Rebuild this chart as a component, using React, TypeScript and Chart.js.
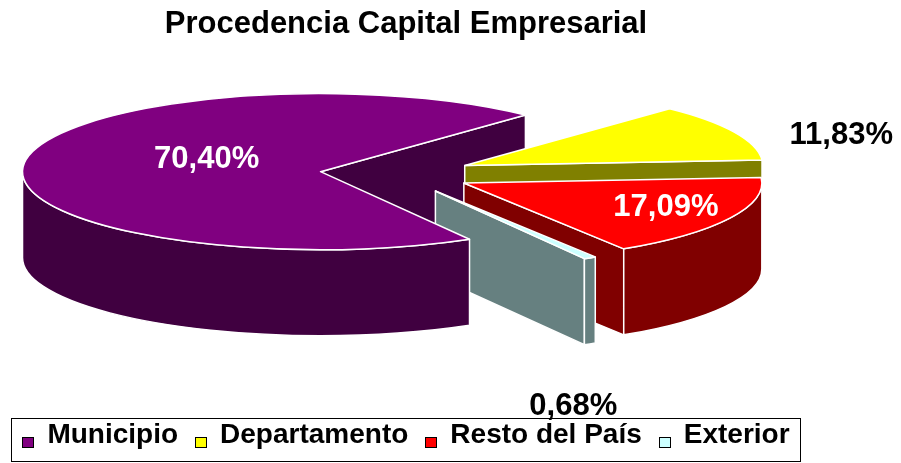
import React, { useEffect, useRef } from 'react';
import { Chart, registerables } from 'chart.js';

Chart.register(...registerables);

// ---------- data ----------
const TITLE = 'Procedencia Capital Empresarial';
const CATEGORIES = ['Municipio', 'Departamento', 'Resto del País', 'Exterior'];
const SHARES = [70.4, 11.83, 17.09, 0.68];
const VALUE_LABELS = ['70,40%', '11,83%', '17,09%', '0,68%'];

// ---------- style ----------
const TOP_COLORS = ['#800080', '#FFFF00', '#FF0000', '#CCFFFF'];
const SIDE_COLORS = ['#400040', '#808000', '#800000', '#668080'];
const LABEL_COLORS = ['#FFFFFF', '#000000', '#FFFFFF', '#000000'];
const LABEL_RADIUS = [0.426, 1.329, 0.734, 2.767];
const LABEL_ANGLE_SHIFT = [19.5, 7.2, -4.3, 21.6];

const FONT = "'Liberation Sans', Arial, Helvetica, sans-serif";
const ROTATION = 150;
const RADIUS = 298;
const TILT = 0.262;
const DEPTH = 86;
const EXPLODE = 76;
const CENTER = { x: 396, y: 174 };
const LABEL_FONT_SIZE = 31;
const LEGEND_FONT_SIZE = 28;
const LEGEND_SQUARE = 11;

type Geo = {
  arc: any;
  i: number;
  x: number;
  y: number;
  s: number;
  e: number;
  r: number;
  mid: number;
  ax: number;
  ay: number;
};

function geometry(chart: any): Geo[] {
  const meta = chart.getDatasetMeta(0);
  return meta.data.map((arc: any, i: number) => {
    const p = arc.getProps(['x', 'y', 'startAngle', 'endAngle', 'outerRadius'], true);
    const mid = (p.startAngle + p.endAngle) / 2;
    const dx = CENTER.x - p.x;
    return {
      arc,
      i,
      x: p.x,
      y: p.y,
      s: p.startAngle,
      e: p.endAngle,
      r: p.outerRadius,
      mid,
      ax: p.x + dx + EXPLODE * Math.cos(mid),
      ay: CENTER.y + EXPLODE * Math.sin(mid) * TILT,
    };
  });
}

function pt(g: Geo, ang: number, z: number): [number, number] {
  return [g.ax + g.r * Math.cos(ang), g.ay + g.r * TILT * Math.sin(ang) + z];
}

function frontIntervals(s: number, e: number): [number, number][] {
  const out: [number, number][] = [];
  for (let n = -2; n <= 2; n++) {
    const a = Math.max(s, 2 * Math.PI * n);
    const b = Math.min(e, 2 * Math.PI * n + Math.PI);
    if (b > a + 1e-6) out.push([a, b]);
  }
  return out;
}

const pie3d = {
  id: 'pie3d',
  beforeDatasetsDraw(chart: any) {
    const ctx: CanvasRenderingContext2D = chart.ctx;
    const geo = geometry(chart);
    const planeY = (g: Geo) => EXPLODE * Math.sin(g.mid);

    type Face = { depth: number; draw: () => void };
    const cuts: Face[] = [];
    const walls: Face[] = [];

    geo.forEach((g) => {
      const side = SIDE_COLORS[g.i];
      const cutFace = (ang: number) => {
        cuts.push({
          depth: planeY(g) + (g.r / 2) * Math.sin(ang),
          draw: () => {
            const p0 = pt(g, ang, 0);
            const p1 = pt(g, ang, DEPTH);
            ctx.beginPath();
            ctx.moveTo(g.ax, g.ay);
            ctx.lineTo(p0[0], p0[1]);
            ctx.lineTo(p1[0], p1[1]);
            ctx.lineTo(g.ax, g.ay + DEPTH);
            ctx.closePath();
            ctx.fillStyle = side;
            ctx.fill();
            ctx.stroke();
          },
        });
      };
      if (Math.cos(g.e) > 0) cutFace(g.e);
      if (Math.cos(g.s) < 0) cutFace(g.s);

      frontIntervals(g.s, g.e).forEach(([a, b]) => {
        walls.push({
          depth: planeY(g) + g.r * Math.sin((a + b) / 2),
          draw: () => {
            const t0 = pt(g, a, 0);
            const b1 = pt(g, b, DEPTH);
            ctx.beginPath();
            ctx.moveTo(t0[0], t0[1]);
            ctx.ellipse(g.ax, g.ay, g.r, g.r * TILT, 0, a, b, false);
            ctx.lineTo(b1[0], b1[1]);
            ctx.ellipse(g.ax, g.ay + DEPTH, g.r, g.r * TILT, 0, b, a, true);
            ctx.closePath();
            ctx.fillStyle = side;
            ctx.fill();
            ctx.stroke();
          },
        });
      });
    });

    ctx.save();
    ctx.strokeStyle = '#FFFFFF';
    ctx.lineWidth = 1.5;
    ctx.lineJoin = 'round';
    cuts.sort((p, q) => p.depth - q.depth).forEach((f) => f.draw());
    walls.sort((p, q) => p.depth - q.depth).forEach((f) => f.draw());

    // top faces: drawn by the library's arc elements, flattened into an ellipse
    geo.forEach((g) => {
      ctx.save();
      ctx.translate(g.ax, g.ay);
      ctx.scale(1, TILT);
      ctx.translate(-g.x, -g.y);
      g.arc.draw(ctx);
      ctx.restore();
      ctx.beginPath();
      ctx.moveTo(g.ax, g.ay);
      ctx.ellipse(g.ax, g.ay, g.r, g.r * TILT, 0, g.s, g.e, false);
      ctx.closePath();
      ctx.stroke();
    });
    ctx.restore();
    return false;
  },
  afterDraw(chart: any) {
    const ctx: CanvasRenderingContext2D = chart.ctx;
    const geo = geometry(chart);
    ctx.save();
    ctx.font = `bold ${LABEL_FONT_SIZE}px ${FONT}`;
    ctx.textAlign = 'center';
    ctx.textBaseline = 'alphabetic';
    geo.forEach((g) => {
      const ang = g.mid + (LABEL_ANGLE_SHIFT[g.i] * Math.PI) / 180;
      const rr = LABEL_RADIUS[g.i] * g.r;
      const x = g.ax + rr * Math.cos(ang);
      const y = g.ay + rr * TILT * Math.sin(ang);
      ctx.fillStyle = LABEL_COLORS[g.i];
      ctx.fillText(VALUE_LABELS[g.i], x, y + LABEL_FONT_SIZE * 0.358);
    });

    // legend squares and frame
    const lg = chart.legend;
    if (lg && lg.legendHitBoxes && lg.legendHitBoxes.length) {
      const hb = lg.legendHitBoxes;
      hb.forEach((h: any, i: number) => {
        const sx = Math.round(h.left) + 0.5;
        const sy = Math.round(h.top + 16) + 0.5;
        ctx.fillStyle = TOP_COLORS[i];
        ctx.fillRect(sx, sy, LEGEND_SQUARE, LEGEND_SQUARE - 1);
        ctx.strokeStyle = '#000000';
        ctx.lineWidth = 1;
        ctx.strokeRect(sx, sy, LEGEND_SQUARE, LEGEND_SQUARE - 1);
      });
      const left = Math.min(...hb.map((h: any) => h.left)) - 11;
      const right = Math.max(...hb.map((h: any) => h.left + h.width)) + 11;
      const top = hb[0].top - 3.5;
      const bottom = hb[0].top + hb[0].height + 11.5;
      ctx.strokeStyle = '#000000';
      ctx.lineWidth = 1;
      ctx.strokeRect(Math.round(left) + 0.5, Math.round(top) + 0.5, Math.round(right - left), Math.round(bottom - top));
    }
    ctx.restore();
  },
};

export default function App() {
  const ref = useRef<HTMLCanvasElement>(null);
  useEffect(() => {
    if (!ref.current) return;
    const chart = new Chart(ref.current, {
      type: 'pie',
      data: {
        labels: CATEGORIES,
        datasets: [
          {
            data: SHARES,
            backgroundColor: TOP_COLORS,
            borderColor: '#FFFFFF',
            borderWidth: 0,
          },
        ],
      },
      options: {
        responsive: false,
        animation: false,
        events: [],
        rotation: ROTATION,
        radius: RADIUS,
        layout: { padding: { left: 3, right: 92, top: 0, bottom: 4 } },
        plugins: {
          title: {
            display: true,
            text: TITLE,
            color: '#000000',
            font: { family: FONT, size: 31, weight: 'bold' },
            padding: { top: 6, bottom: 0 },
          },
          legend: {
            position: 'bottom',
            labels: {
              color: '#000000',
              font: { family: FONT, size: LEGEND_FONT_SIZE, weight: 'bold' },
              boxWidth: LEGEND_SQUARE,
              boxHeight: LEGEND_SQUARE,
              padding: 17,
              generateLabels: () =>
                CATEGORIES.map((c, i) => ({
                  text: c,
                  fillStyle: 'rgba(0,0,0,0)',
                  strokeStyle: 'rgba(0,0,0,0)',
                  lineWidth: 0,
                  hidden: false,
                  index: i,
                  fontColor: '#000000',
                })),
            },
          },
          tooltip: { enabled: false },
        },
      } as any,
      plugins: [pie3d as any],
    });
    return () => chart.destroy();
  }, []);

  return (
    <div style={{ position: 'absolute', left: 0, top: 0, width: 901, height: 463, background: '#FFFFFF' }}>
      <canvas ref={ref} width={901} height={463} style={{ display: 'block' }} />
    </div>
  );
}
